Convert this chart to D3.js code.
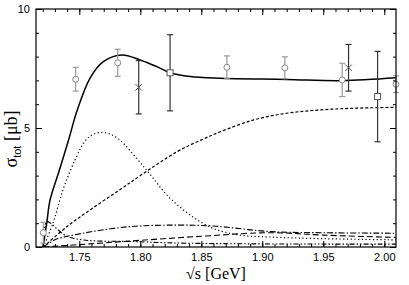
<!DOCTYPE html>
<html>
<head>
<meta charset="utf-8">
<script src="https://cdn.jsdelivr.net/npm/d3@7"></script>
<style>
body { margin: 0; background: #fff; }
.tick text { font-family: "Liberation Sans", Arial, sans-serif; font-size: 11px; }
</style>
</head>
<body>
<svg width="409" height="285"></svg>
<script>
// total cross section curve
const totalCurve = [[1.7202,0],[1.7233,1.0],[1.726,1.97],[1.7335,3.2],[1.7415,4.55],[1.748,5.7],[1.7588,7.1],[1.7697,7.79],[1.7848,8.07],[1.7998,7.86],[1.8135,7.58],[1.8244,7.32],[1.8408,7.16],[1.865,7.09],[1.92,7.04],[1.965,6.99],[2.01,7.11]];
const shortDash = [[1.7205,0],[1.74,0.86],[1.76,1.6],[1.783,2.4],[1.80,3.0],[1.83,4.0],[1.85,4.5],[1.8655,4.84],[1.893,5.34],[1.92,5.62],[1.9475,5.76],[1.975,5.83],[2.0096,5.87]];
const dotted = [[1.7205,0],[1.7284,1.0],[1.7366,2.4],[1.7465,3.66],[1.7547,4.45],[1.762,4.75],[1.771,4.8],[1.7818,4.55],[1.804,3.3],[1.826,1.97],[1.857,0.84],[1.882,0.5],[1.906,0.42],[1.95,0.35],[2.01,0.3]];
const dashDot = [[1.7205,0],[1.73,0.3],[1.75,0.55],[1.79,0.85],[1.83,0.92],[1.86,0.88],[1.906,0.65],[1.95,0.6],[2.01,0.58]];
const longDash = [[1.7205,0],[1.75,0.1],[1.783,0.22],[1.85,0.45],[1.906,0.6],[1.95,0.5],[2.01,0.4]];
const dashDotDot = [[1.7215,0.5],[1.7233,1.06],[1.7415,0.42],[1.80,0.22],[1.85,0.15],[2.01,0.12]];

// data points: [sqrt(s), sigma, error]
const circles = [[1.7205,0.6,0.44],[1.747,7.05,0.5],[1.7815,7.74,0.57],[1.871,7.55,0.48],[1.9185,7.53,0.46],[1.9655,7.02,0.7],[2.0096,6.84,0.35]];
const crosses = [[1.7987,6.71,1.12],[1.9707,7.53,0.98]];
const squares = [[1.8244,7.32,1.6],[1.9945,6.32,1.9]];

const xTicks = [1.75,1.80,1.85,1.90,1.95,2.00];
const yTicks = [0,5,10];

const svg = d3.select("svg");
const mLeft = 36, mRight = 396, mTop = 9, mBottom = 247;

const x = d3.scaleLinear().domain([1.7145, 2.0096]).range([mLeft, mRight]);
const y = d3.scaleLinear().domain([0, 10]).range([mBottom, mTop]);

const plot = svg.append("g");

svg.append("defs").append("clipPath").attr("id", "clip")
    .append("rect").attr("x", mLeft).attr("y", mTop).attr("width", mRight - mLeft).attr("height", mBottom - mTop);

const line = d3.line()
    .x(function(d) { return x(d[0]); })
    .y(function(d) { return y(d[1]); })
    .curve(d3.curveCatmullRom.alpha(0.5));

const curves = [
    { data: totalCurve, dash: null, w: 1.5 },
    { data: shortDash, dash: "3,2", w: 1.2 },
    { data: dotted, dash: "1.2,2.5", w: 1.2 },
    { data: dashDot, dash: "6,2,1.5,2", w: 1.1 },
    { data: longDash, dash: "6,3", w: 1.1 },
    { data: dashDotDot, dash: "5,2,1.5,2,1.5,2", w: 1.1 }
];

const cg = plot.append("g").attr("clip-path", "url(#clip)");
curves.forEach(function(c) {
    cg.append("path")
        .attr("d", line(c.data))
        .attr("fill", "none")
        .attr("stroke", "#000")
        .attr("stroke-width", c.w)
        .attr("stroke-dasharray", c.dash);
});

function errorBars(data, color) {
    const g = plot.append("g").attr("stroke", color).attr("stroke-width", 1.2).attr("fill", "none");
    data.forEach(function(d) {
        const px = x(d[0]);
        g.append("line").attr("x1", px).attr("x2", px).attr("y1", y(d[1] - d[2])).attr("y2", y(d[1] + d[2]));
        g.append("line").attr("x1", px - 3).attr("x2", px + 3).attr("y1", y(d[1] - d[2])).attr("y2", y(d[1] - d[2]));
        g.append("line").attr("x1", px - 3).attr("x2", px + 3).attr("y1", y(d[1] + d[2])).attr("y2", y(d[1] + d[2]));
    });
    return g;
}

errorBars(circles, "#999");
errorBars(crosses, "#333");
errorBars(squares, "#333");

plot.append("g").selectAll("circle").data(circles).enter().append("circle")
    .attr("cx", function(d) { return x(d[0]); })
    .attr("cy", function(d) { return y(d[1]); })
    .attr("r", 3)
    .attr("fill", "#fff")
    .attr("stroke", "#888")
    .attr("stroke-width", 1);

plot.append("g").selectAll("path").data(crosses).enter().append("path")
    .attr("d", d3.symbol().type(d3.symbolX).size(30))
    .attr("transform", function(d) { return "translate(" + x(d[0]) + "," + y(d[1]) + ")"; })
    .attr("fill", "none")
    .attr("stroke", "#555")
    .attr("stroke-width", 1);

plot.append("g").selectAll("rect").data(squares).enter().append("rect")
    .attr("x", function(d) { return x(d[0]) - 3; })
    .attr("y", function(d) { return y(d[1]) - 3; })
    .attr("width", 6)
    .attr("height", 6)
    .attr("fill", "#fff")
    .attr("stroke", "#555")
    .attr("stroke-width", 1);

// axes: ticks inside on all four sides
const xMinor = d3.range(1.72, 2.0051, 0.01);
const yMinor = d3.range(0, 10.01, 1);

function axisPair(axisFn, scale, ticks, size, transform, fmt) {
    svg.append("g").attr("transform", transform)
        .call(axisFn(scale).tickValues(ticks).tickSize(size).tickFormat(fmt))
        .call(function(g) { g.select(".domain").remove(); });
}

const noLabel = function() { return ""; };
// bottom
axisPair(d3.axisBottom, x, xMinor, -3, "translate(0," + mBottom + ")", noLabel);
svg.append("g").attr("transform", "translate(0," + mBottom + ")")
    .call(d3.axisBottom(x).tickValues(xTicks).tickSize(-6).tickPadding(6).tickFormat(d3.format(".2f")))
    .call(function(g) { g.select(".domain").remove(); });
// top
axisPair(d3.axisTop, x, xMinor, -3, "translate(0," + mTop + ")", noLabel);
axisPair(d3.axisTop, x, xTicks, -6, "translate(0," + mTop + ")", noLabel);
// left
axisPair(d3.axisLeft, y, yMinor, -3, "translate(" + mLeft + ",0)", noLabel);
svg.append("g").attr("transform", "translate(" + mLeft + ",0)")
    .call(d3.axisLeft(y).tickValues(yTicks).tickSize(-6).tickPadding(6).tickFormat(d3.format("d")))
    .call(function(g) { g.select(".domain").remove(); });
// right
axisPair(d3.axisRight, y, yMinor, -3, "translate(" + mRight + ",0)", noLabel);
axisPair(d3.axisRight, y, yTicks, -6, "translate(" + mRight + ",0)", noLabel);

svg.selectAll(".tick line").attr("stroke", "#000");

svg.append("rect")
    .attr("x", mLeft).attr("y", mTop)
    .attr("width", mRight - mLeft).attr("height", mBottom - mTop)
    .attr("fill", "none").attr("stroke", "#000").attr("stroke-width", 1.2);

// axis titles
svg.append("text")
    .attr("x", (mLeft + mRight) / 2)
    .attr("y", 279)
    .attr("text-anchor", "middle")
    .style("font-family", "'Liberation Serif', 'Times New Roman', serif")
    .style("font-size", "16px")
    .text("√s [GeV]");

const yt = svg.append("text")
    .attr("transform", "translate(17,139) rotate(-90)")
    .attr("text-anchor", "middle")
    .style("font-family", "'Liberation Serif', 'Times New Roman', serif")
    .style("font-size", "18px");
yt.append("tspan").text("σ");
yt.append("tspan").attr("dy", 4).style("font-size", "11px").style("font-family", "'Liberation Sans', Arial, sans-serif").text("tot");
yt.append("tspan").attr("dy", -4).text(" [μb]");
</script>
</body>
</html>
